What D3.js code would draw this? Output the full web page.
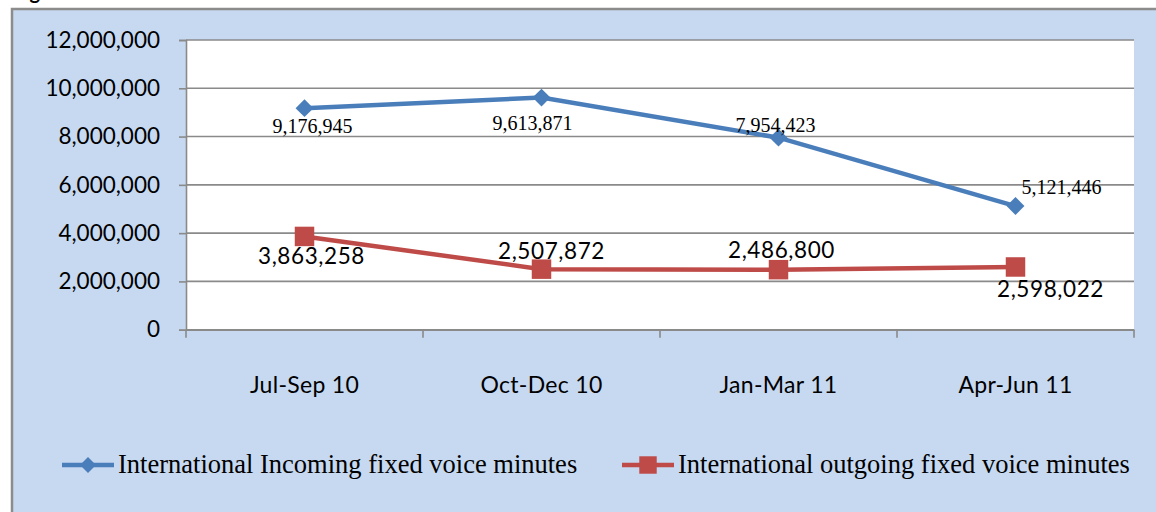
<!DOCTYPE html>
<html>
<head>
<meta charset="utf-8">
<script src="https://cdn.jsdelivr.net/npm/d3@7"></script>
<style>
  body { margin: 0; background: #fff; }
  svg { display: block; }
</style>
</head>
<body>
<svg width="1156" height="512"></svg>
<script>
const quarters = ["Jul-Sep 10", "Oct-Dec 10", "Jan-Mar 11", "Apr-Jun 11"];
const incoming = [9176945, 9613871, 7954423, 5121446];
const outgoing = [3863258, 2507872, 2486800, 2598022];
const yTicks = [0, 2000000, 4000000, 6000000, 8000000, 10000000, 12000000];
const seriesNames = ["International Incoming fixed voice minutes", "International outgoing fixed voice minutes"];

const svg = d3.select("svg");
const margin = { top: 40, right: 22, bottom: 183, left: 186 };
const width = +svg.attr("width");
const height = +svg.attr("height");
const fmt = d3.format(",");

// cut off caption above the chart box
svg.append("text")
  .attr("x", 13).attr("y", -1)
  .style("font-family", "Lato, sans-serif")
  .style("font-weight", "bold")
  .style("font-size", "20px")
  .text("Figure");

// outer chart box
svg.append("rect")
  .attr("x", 12).attr("y", 9)
  .attr("width", 1160).attr("height", 520)
  .attr("fill", "#C6D9F1")
  .attr("stroke", "#8c8c8c")
  .attr("stroke-width", 2.5);

const x = d3.scaleBand()
  .domain(quarters)
  .range([margin.left, width - margin.right]);

const y = d3.scaleLinear()
  .domain([0, 12000000])
  .range([height - margin.bottom + 0.7, margin.top]);

// plot area
svg.append("rect")
  .attr("x", margin.left).attr("y", margin.top)
  .attr("width", x.range()[1] - margin.left)
  .attr("height", y(0) - margin.top)
  .attr("fill", "#fff");

// grid lines
svg.append("g")
  .selectAll("line")
  .data(yTicks)
  .enter()
  .append("line")
  .attr("x1", margin.left).attr("x2", x.range()[1])
  .attr("y1", d => y(d)).attr("y2", d => y(d))
  .attr("stroke", "#8a8a8a")
  .attr("stroke-width", 1.6);

const yAxis = svg.append("g")
  .attr("class", "y-axis")
  .attr("transform", `translate(${margin.left},0)`)
  .call(d3.axisLeft(y).tickValues(yTicks).tickFormat(fmt).tickSize(7).tickPadding(19));

const xAxis = svg.append("g")
  .attr("class", "x-axis")
  .attr("transform", `translate(0,${y(0)})`)
  .call(d3.axisBottom(x).tickSize(0).tickPadding(47));

// x ticks sit on category boundaries
xAxis.selectAll(".bound")
  .data(quarters.map(q => x(q)).concat([x.range()[1]]))
  .enter()
  .append("line")
  .attr("x1", d => d).attr("x2", d => d)
  .attr("y1", 0).attr("y2", 8)
  .attr("stroke", "#8a8a8a")
  .attr("stroke-width", 1.6);

svg.selectAll(".y-axis path, .x-axis path")
  .style("stroke", "#8a8a8a")
  .style("stroke-width", "1.6px");
svg.selectAll(".y-axis .tick line")
  .style("stroke", "#8a8a8a")
  .style("stroke-width", "1.6px");
svg.selectAll(".y-axis text")
  .style("font-family", "Lato, sans-serif")
  .style("font-size", "22.5px")
  .style("fill", "#000");
svg.selectAll(".x-axis text")
  .style("font-family", "Lato, sans-serif")
  .style("font-size", "23px")
  .style("letter-spacing", "0.3px")
  .style("fill", "#000");

const cx = q => x(q) + x.bandwidth() / 2;
const line = d3.line().x(d => cx(d.q)).y(d => y(d.v));

// diamond = square turned 45 degrees
const series = [
  { name: seriesNames[0], values: incoming, color: "#4A7EBB", size: 160, rotate: 45,
    font: "'Liberation Serif', 'Times New Roman', serif", fsize: "20px", spacing: "0px",
    offsets: [[8, 25], [-9, 32], [-3, -6], [46, -12]] },
  { name: seriesNames[1], values: outgoing, color: "#BE4B48", size: 380, rotate: 0,
    font: "Lato, sans-serif", fsize: "22.5px", spacing: "0.6px",
    offsets: [[7, 28], [10, -10], [3, -12], [35, 30]] }
];

series.forEach(s => {
  const pts = s.values.map((v, i) => ({ q: quarters[i], v: v }));
  svg.append("path")
    .datum(pts)
    .attr("d", line)
    .attr("fill", "none")
    .attr("stroke", s.color)
    .attr("stroke-width", 4.5);

  svg.selectAll(null)
    .data(pts)
    .enter()
    .append("path")
    .attr("d", d3.symbol().type(d3.symbolSquare).size(s.size))
    .attr("transform", d => `translate(${cx(d.q)},${y(d.v)}) rotate(${s.rotate})`)
    .attr("fill", s.color);

  svg.selectAll(null)
    .data(pts)
    .enter()
    .append("text")
    .attr("x", (d, i) => cx(d.q) + s.offsets[i][0])
    .attr("y", (d, i) => y(d.v) + s.offsets[i][1])
    .attr("text-anchor", "middle")
    .style("font-family", s.font)
    .style("font-size", s.fsize)
    .style("letter-spacing", s.spacing)
    .text(d => fmt(d.v));
});

// legend
const legend = svg.append("g").attr("transform", "translate(0,465)");
const legendX = [62, 622];
series.forEach((s, i) => {
  const g = legend.append("g").attr("transform", `translate(${legendX[i]},0)`);
  g.append("line")
    .attr("x1", 0).attr("x2", 52)
    .attr("stroke", s.color)
    .attr("stroke-width", 4.5);
  g.append("path")
    .attr("d", d3.symbol().type(d3.symbolSquare).size(s.size * 0.8))
    .attr("transform", `translate(26,0) rotate(${s.rotate})`)
    .attr("fill", s.color);
  g.append("text")
    .attr("x", 56).attr("y", 8)
    .style("font-family", "'Liberation Serif', 'Times New Roman', serif")
    .style("font-size", "26.5px")
    .text(s.name);
});
</script>
</body>
</html>
